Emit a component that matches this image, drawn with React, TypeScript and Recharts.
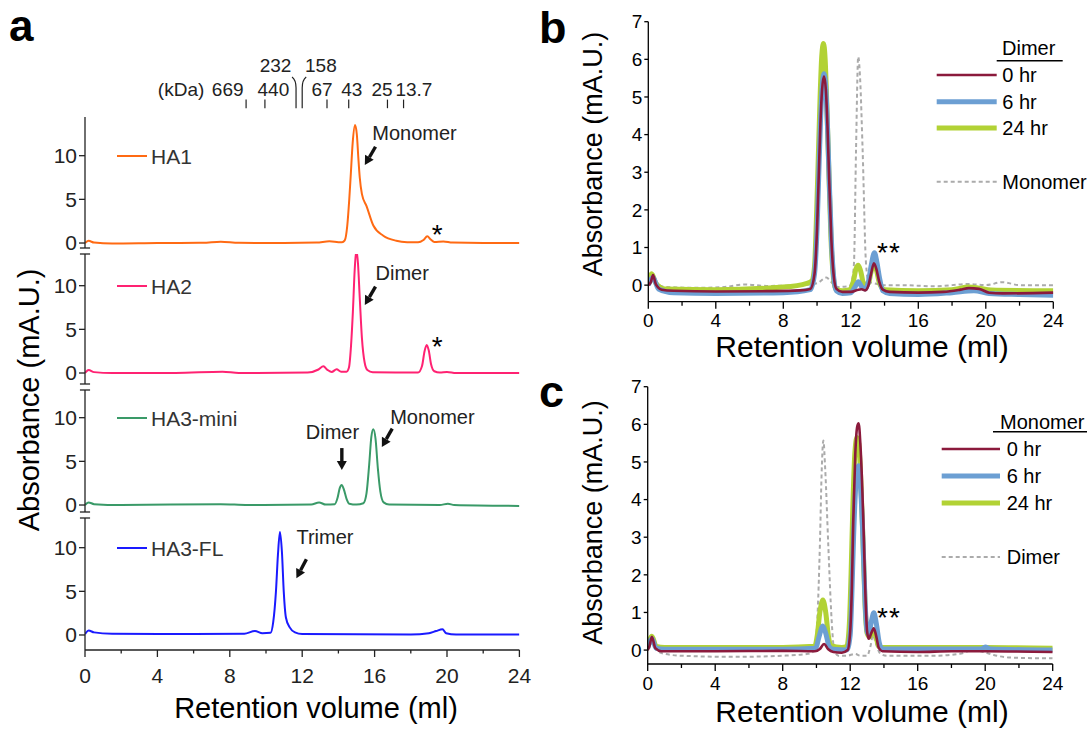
import React from 'react';
import { LineChart, Line, XAxis, YAxis, ReferenceDot, ReferenceLine, Legend } from 'recharts';

const FONT = '"Liberation Sans", Arial, Helvetica, sans-serif';
type P = [number, number];

// ---------- Panel a : SEC traces (retention volume ml, absorbance mA.U.) ----------
const ha1: P[] = [[0,0],[0.2,0.25],[0.5,0.05],[1.5,-0.05],[4,0],[6.5,0.02],[7.5,0.15],[8.5,0.02],[11,0],[12.8,0.05],[13.5,0.2],[14.0,0.1],[14.2,0.08],[14.35,0.3],[14.49,2.0],[14.6,5.0],[14.68,7.7],[14.79,11.5],[14.92,13.5],[15.02,12.4],[15.1,9.8],[15.18,7.5],[15.3,5.6],[15.56,4.2],[15.93,2.0],[16.48,0.84],[17.2,0.26],[17.8,0.1],[18.4,0.08],[18.7,0.35],[18.91,0.77],[19.1,0.4],[19.3,0.12],[19.8,0.18],[20.3,0.05],[22,0],[24,0]];
const ha2: P[] = [[0,0],[0.2,0.35],[0.5,0.1],[1.5,0],[5,0],[7.6,0.15],[8.5,0],[12.3,0.05],[12.9,0.4],[13.17,0.76],[13.4,0.35],[13.63,0.12],[13.9,0.42],[14.15,0.15],[14.45,0.15],[14.58,0.6],[14.7,3.2],[14.8,7.0],[14.9,11.8],[14.99,14.1],[15.08,12.6],[15.18,8.6],[15.3,4.0],[15.45,1.2],[15.6,0.35],[15.9,0.1],[18.4,0.05],[18.62,0.8],[18.76,2.5],[18.88,3.2],[18.99,2.6],[19.12,1.0],[19.3,0.2],[19.6,0.05],[20.0,0.12],[20.5,0],[24,0]];
const ha3mini: P[] = [[0,0],[0.2,0.3],[0.5,0.1],[2,0],[7.5,0.1],[9,0],[12.5,0.05],[12.93,0.3],[13.3,0.05],[13.8,0.1],[13.95,0.8],[14.07,1.9],[14.18,2.3],[14.3,1.8],[14.45,0.7],[14.6,0.15],[15.0,0.05],[15.38,0.2],[15.55,1.3],[15.7,4.6],[15.82,7.8],[15.93,8.67],[16.05,7.6],[16.18,4.2],[16.32,1.5],[16.5,0.3],[16.8,0.05],[19.6,0],[20.05,0.15],[20.4,0],[24,-0.1]];
const ha3fl: P[] = [[0,0.1],[0.2,0.5],[0.5,0.3],[1.5,0.15],[5,0.1],[8.8,0.15],[9.39,0.45],[9.8,0.2],[10.25,0.25],[10.4,1.5],[10.55,5.0],[10.66,9.2],[10.77,11.8],[10.88,9.5],[10.98,5.0],[11.1,2.0],[11.3,0.9],[11.6,0.3],[12,0.1],[18,0.05],[19.0,0.2],[19.4,0.45],[19.75,0.65],[19.95,0.2],[20.5,0.05],[24,0.05]];

// ---------- Panel b : dimer incubated 0/6/24 hr, monomer reference ----------
const bDimer0: P[] = [[0,0],[0.15,0.08],[0.28,0.27],[0.45,0.02],[0.8,-0.12],[1.5,-0.15],[4,-0.17],[7,-0.16],[9,-0.14],[9.6,-0.1],[9.85,0.3],[10.0,1.5],[10.1,2.9],[10.2,4.3],[10.3,5.2],[10.41,5.55],[10.52,5.2],[10.62,4.2],[10.72,2.8],[10.85,1.2],[11.0,0.2],[11.15,-0.1],[11.5,-0.18],[12.0,-0.18],[12.45,-0.12],[12.65,-0.11],[12.85,-0.14],[13.05,0.0],[13.2,0.3],[13.37,0.58],[13.52,0.42],[13.68,0.1],[13.9,-0.12],[14.3,-0.18],[16,-0.2],[17.5,-0.18],[18.5,-0.12],[19.0,-0.08],[19.6,-0.1],[20.2,-0.2],[21,-0.22],[24,-0.2]];
const bDimer6: P[] = [[0,0],[0.28,0.2],[0.6,-0.1],[1.5,-0.2],[4,-0.22],[8,-0.2],[9.6,-0.12],[9.85,0.3],[10.0,1.5],[10.1,2.9],[10.2,4.3],[10.3,5.25],[10.41,5.62],[10.52,5.25],[10.62,4.2],[10.72,2.8],[10.85,1.2],[11.0,0.15],[11.15,-0.15],[11.5,-0.22],[12.0,-0.2],[12.25,-0.05],[12.45,0.09],[12.65,-0.05],[12.85,-0.1],[13.05,0.1],[13.2,0.5],[13.4,0.86],[13.55,0.6],[13.7,0.2],[13.9,-0.15],[14.3,-0.22],[16,-0.25],[18,-0.2],[19.3,-0.15],[20.2,-0.22],[22,-0.25],[24,-0.27]];
const bDimer24: P[] = [[0,0.05],[0.2,0.3],[0.45,0.05],[1,-0.1],[4,-0.12],[8,-0.05],[9.4,0.05],[9.7,0.12],[9.85,0.5],[9.98,2.0],[10.08,3.5],[10.18,5.0],[10.28,6.1],[10.38,6.42],[10.48,6.0],[10.58,4.8],[10.7,3.0],[10.82,1.3],[10.97,0.2],[11.1,-0.1],[11.5,-0.15],[11.95,-0.12],[12.15,0.1],[12.3,0.42],[12.44,0.53],[12.58,0.38],[12.78,0.02],[13.05,0.05],[13.2,0.35],[13.38,0.55],[13.52,0.4],[13.7,0.05],[14,-0.12],[16,-0.15],[18,-0.12],[19,-0.05],[19.6,-0.08],[20.3,-0.13],[24,-0.15]];
const bMonomerRef: P[] = [[0,0.05],[0.22,0.35],[0.5,0.05],[1,-0.05],[3,-0.07],[4.5,-0.05],[5.7,0.02],[7,-0.02],[9,0],[10,0.05],[10.55,0.2],[10.85,0.08],[11.2,-0.05],[11.9,-0.03],[12.1,0.2],[12.19,0.6],[12.31,3.6],[12.44,6.07],[12.55,5.5],[12.7,3.6],[12.9,0.58],[13.05,0.1],[13.4,0.05],[14,0],[15,0],[17,-0.03],[19,0.03],[20,0],[21,0.08],[22,0],[24,0]];

// ---------- Panel c : monomer incubated 0/6/24 hr, dimer reference ----------
const cMono0: P[] = [[0,0],[0.1,0.1],[0.25,0.35],[0.45,0.05],[0.8,-0.03],[4,-0.03],[8,-0.02],[9.9,-0.03],[10.2,0.03],[10.45,0.16],[10.7,0.02],[11,-0.05],[11.5,-0.07],[11.85,0],[12.0,0.5],[12.1,1.7],[12.18,3.4],[12.3,5.2],[12.42,5.95],[12.5,6.03],[12.6,5.5],[12.7,4.5],[12.78,3.4],[12.9,1.5],[13.0,0.5],[13.1,0.3],[13.25,0.45],[13.4,0.58],[13.55,0.35],[13.7,0.05],[13.9,-0.03],[16,-0.05],[18,-0.03],[20,-0.03],[24,-0.05]];
const cMono6: P[] = [[0,0.05],[0.25,0.3],[0.5,0.05],[1,0.02],[8,0.02],[9.95,0.05],[10.15,0.35],[10.38,0.64],[10.55,0.45],[10.75,0.1],[11,0.02],[11.8,0],[12.0,0.4],[12.1,1.5],[12.2,3.0],[12.35,4.5],[12.5,4.9],[12.62,4.3],[12.75,3.0],[12.88,1.3],[13.0,0.5],[13.1,0.42],[13.25,0.75],[13.4,0.99],[13.55,0.7],[13.72,0.2],[13.9,0.03],[19.8,0.03],[20.0,0.08],[20.3,0.03],[24,0.0]];
const cMono24: P[] = [[0,0.07],[0.25,0.37],[0.5,0.1],[1,0.07],[8,0.07],[9.9,0.1],[10.05,0.4],[10.2,1.0],[10.38,1.33],[10.55,1.0],[10.7,0.4],[10.85,0.12],[11.5,0.07],[11.8,0.1],[11.95,0.7],[12.05,2.0],[12.15,3.7],[12.27,5.2],[12.4,5.65],[12.5,5.5],[12.62,4.6],[12.75,3.0],[12.88,1.2],[13.0,0.45],[13.15,0.35],[13.35,0.55],[13.5,0.4],[13.7,0.1],[13.9,0.07],[20,0.07],[24,0.05]];
const cDimerRef: P[] = [[0,0],[0.25,0.3],[0.5,0],[1,-0.1],[2,-0.15],[5,-0.18],[8,-0.15],[9.5,-0.1],[9.9,0],[10.05,0.8],[10.21,2.9],[10.3,4.6],[10.41,5.57],[10.52,4.8],[10.7,2.8],[10.9,0.8],[11.05,0],[11.3,-0.15],[11.8,-0.15],[12.3,-0.1],[12.6,-0.15],[13.0,-0.15],[13.2,0.1],[13.35,0.4],[13.5,0.2],[13.8,-0.1],[14.2,-0.15],[17,-0.15],[18.5,-0.1],[19.3,0],[19.9,-0.05],[20.5,-0.13],[21.5,-0.2],[24,-0.22]];

// ---------- ticks & labels ----------
const xTicks = [0, 2, 4, 6, 8, 10, 12, 14, 16, 18, 20, 22, 24];
const aYTicks = [0, 5, 10];
const bcYTicks = [0, 1, 2, 3, 4, 5, 6, 7];
const mwMarkers = [8.9, 9.94, 11.66, 12.0, 13.37, 14.57, 16.71, 17.6];
const mwLabels = ['669', '440', '232', '158', '67', '43', '25', '13.7'];
const timeLabels = ['0 hr', '6 hr', '24 hr'];

const toRows = (pts: P[]) => pts.map(([x, y]) => ({ x, y }));

// ---------- layout / style ----------
const mwRow = [2, 2, 1, 1, 2, 2, 2, 2];
const mwDx = [-18.4, 8.5, -20.5, 18.7, -5, 3, -5.5, 10.4];
const A_LEFT = 25, A_YW = 60, A_RIGHT = 40.6, A_W = 560, H = 734, A_XH = 75;

const aPanels = [
  { name: 'HA1', color: '#ff6a13', pts: ha1, plotTop: 117, plotBottom: 248, domain: [-0.57, 14.43],
    notes: [{ x: 15.87, y: 12.57, text: 'Monomer' }], stars: [{ x: 19.49, y: 1.7, text: '*' }],
    arrows: [{ x: 15.46, y: 8.93, dx: -10.7, dy: 18.3 }] },
  { name: 'HA2', color: '#ff2272', pts: ha2, plotTop: 254, plotBottom: 384, domain: [-1.26, 13.63],
    notes: [{ x: 16.05, y: 11.42, text: 'Dimer' }], stars: [{ x: 19.49, y: 3.78, text: '*' }],
    arrows: [{ x: 15.46, y: 7.79, dx: -10.7, dy: 18.3 }] },
  { name: 'HA3-mini', color: '#3a9a68', pts: ha3mini, plotTop: 390, plotBottom: 512, domain: [-0.8, 13.17],
    notes: [{ x: 12.2, y: 8.4, text: 'Dimer' }, { x: 16.86, y: 10.08, text: 'Monomer' }], stars: [],
    arrows: [{ x: 14.19, y: 4.0, dx: 0, dy: 22 }, { x: 16.4, y: 6.64, dx: -10.4, dy: 18.4 }] },
  { name: 'HA3-FL', color: '#1a1aff', pts: ha3fl, plotTop: 518, plotBottom: 650, domain: [-1.72, 13.4],
    notes: [{ x: 11.68, y: 11.26, text: 'Trimer' }], stars: [],
    arrows: [{ x: 11.68, y: 6.5, dx: -10, dy: 19 }] },
];

// ---------- small render helpers ----------
const XTick = (props: any) => {
  const { x, y, payload, tcolor, tfs, majorLen, minorLen, labelDy } = props;
  const v = payload.value;
  const isMajor = v % 4 === 0;
  return (
    <g>
      <line x1={x} x2={x} y1={y} y2={y + (isMajor ? majorLen : minorLen)} stroke={tcolor} strokeWidth={1.3} />
      {isMajor && (
        <text x={x} y={y + labelDy} textAnchor="middle" fontSize={tfs} fill={tcolor} fontFamily={FONT}>{v}</text>
      )}
    </g>
  );
};

const MwTick = (props: any) => {
  const { x, y, index } = props;
  const row = mwRow[index];
  const lx = x + mwDx[index];
  const ly = row === 1 ? y - 45 : y - 21;
  const bot = y - 8.8;
  let d = `M${x},${bot} L${x},${y - 17.4}`;
  if (index === 2) d = `M${x},${bot} L${x},${y - 29} Q${x},${y - 37} ${x - 4},${y - 40}`;
  if (index === 3) d = `M${x},${bot} L${x},${y - 29} Q${x},${y - 37} ${x + 4},${y - 40}`;
  return (
    <g>
      <path d={d} stroke="#222" strokeWidth={1.2} fill="none" />
      <text x={lx} y={ly} textAnchor="middle" fontSize={19} fill="#222" fontFamily={FONT}>{mwLabels[index]}</text>
      {index === 0 && (
        <text x={x - 65} y={y - 21} textAnchor="middle" fontSize={19} fill="#222" fontFamily={FONT}>(kDa)</text>
      )}
    </g>
  );
};

const Title = (props: any) => {
  const { tx, ty, txt, tsize, rotate } = props;
  return (
    <text x={tx} y={ty} textAnchor="middle" dominantBaseline={rotate ? 'central' : 'alphabetic'}
      transform={rotate ? `rotate(-90 ${tx} ${ty})` : undefined}
      fontSize={tsize} fill="#000" fontFamily={FONT}>{txt}</text>
  );
};

const ArrowShape = (props: any) => {
  const { cx, cy, adx, ady } = props;
  const len = Math.hypot(adx, ady);
  const ux = adx / len, uy = ady / len;
  const hl = 9, hw = 5;
  const bx = cx - ux * hl, by = cy - uy * hl;
  const px = -uy, py = ux;
  return (
    <g>
      <line x1={cx - adx} y1={cy - ady} x2={bx} y2={by} stroke="#111" strokeWidth={3.4} />
      <polygon points={`${cx},${cy} ${bx + px * hw},${by + py * hw} ${bx - px * hw},${by - py * hw}`} fill="#111" />
    </g>
  );
};

const NoteShape = (props: any) => {
  const { cx, cy, txt, nsize, ncolor, star } = props;
  if (star) {
    return <text x={cx} y={cy + 0.58 * nsize} textAnchor="middle" fontSize={nsize} fill="#000" fontFamily={FONT} letterSpacing={1}>{txt}</text>;
  }
  return <text x={cx} y={cy} textAnchor="start" dominantBaseline="central" fontSize={nsize} fill={ncolor} fontFamily={FONT}>{txt}</text>;
};

const ALegend = ({ color, label }: any) => (
  <svg width={160} height={28}>
    <line x1={1} x2={31} y1={14} y2={14} stroke={color} strokeWidth={2} />
    <text x={35} y={14} dominantBaseline="central" fontSize={21} fill="#333" fontFamily={FONT}>{label}</text>
  </svg>
);

function SubChart({ cfg, idx }: any) {
  const isFirst = idx === 0;
  const isLast = idx === aPanels.length - 1;
  const marginTop = isFirst ? 40 : cfg.plotTop;
  const marginBottom = isLast ? H - cfg.plotBottom - A_XH : H - cfg.plotBottom;
  const [d0, d1] = cfg.domain;
  const legendY = cfg.plotTop + ((d1 - 10) / (d1 - d0)) * (cfg.plotBottom - cfg.plotTop);
  return (
    <div style={{ position: 'absolute', left: 0, top: 0 }}>
      <LineChart width={A_W} height={H} margin={{ top: marginTop, bottom: marginBottom, left: A_LEFT, right: A_RIGHT }}>
        <XAxis dataKey="x" type="number" domain={[0, 24]} allowDataOverflow ticks={xTicks} interval={0}
          hide={!isLast} height={A_XH} tickLine={false} tickSize={0} tickMargin={0}
          axisLine={{ stroke: '#222', strokeWidth: 1.3 }}
          tick={<XTick tcolor="#222" tfs={21} majorLen={7} minorLen={3.5} labelDy={33} />}
          label={isLast ? <Title tx={316} ty={718.4} txt="Retention volume (ml)" tsize={29} /> : undefined} />
        {isFirst && (
          <XAxis xAxisId="mw" orientation="top" dataKey="x" type="number" domain={[0, 24]} allowDataOverflow
            ticks={mwMarkers} interval={0} height={77} axisLine={false} tickLine={false} tickSize={0} tickMargin={0}
            tick={<MwTick />} />
        )}
        <YAxis type="number" domain={cfg.domain} allowDataOverflow ticks={aYTicks} interval={0} width={A_YW}
          tickSize={6} tickMargin={2} axisLine={{ stroke: '#222', strokeWidth: 1.3 }} tickLine={{ stroke: '#222', strokeWidth: 1.3 }}
          tick={{ fontSize: 21, fill: '#222', fontFamily: FONT }}
          label={idx === 1 ? <Title tx={29} ty={400} txt="Absorbance (mA.U.)" tsize={29} rotate /> : undefined} />
        {!isFirst && (
          <ReferenceLine segment={[{ x: -0.28, y: d1 }, { x: 0.28, y: d1 }]} stroke="#222" strokeWidth={1.3} ifOverflow="visible" />
        )}
        {!isLast && (
          <ReferenceLine segment={[{ x: -0.28, y: d0 }, { x: 0.28, y: d0 }]} stroke="#222" strokeWidth={1.3} ifOverflow="visible" />
        )}
        <Line data={toRows(cfg.pts)} dataKey="y" name={cfg.name} type="monotone" stroke={cfg.color} strokeWidth={2}
          dot={false} activeDot={false} isAnimationActive={false} />
        {cfg.notes.map((n: any, i: number) => (
          <ReferenceDot key={'n' + i} x={n.x} y={n.y} r={0} ifOverflow="visible"
            shape={(p: any) => <NoteShape cx={p.cx} cy={p.cy} txt={n.text} nsize={20} ncolor="#222" />} />
        ))}
        {cfg.stars.map((n: any, i: number) => (
          <ReferenceDot key={'s' + i} x={n.x} y={n.y} r={0} ifOverflow="visible"
            shape={(p: any) => <NoteShape cx={p.cx} cy={p.cy} txt={n.text} nsize={28} star />} />
        ))}
        {cfg.arrows.map((a: any, i: number) => (
          <ReferenceDot key={'a' + i} x={a.x} y={a.y} r={0} ifOverflow="visible"
            shape={(p: any) => <ArrowShape cx={p.cx} cy={p.cy} adx={a.dx} ady={a.dy} />} />
        ))}
        <Legend layout="horizontal" verticalAlign="middle" align="center"
          wrapperStyle={{ left: 116, top: legendY - 14, width: 160, height: 28 }}
          content={() => <ALegend color={cfg.color} label={cfg.name} />} />
      </LineChart>
    </div>
  );
}

const seriesStyles = [
  { color: '#8b1a3c', width: 2.6, dash: undefined },
  { color: '#6c9fd3', width: 5, dash: undefined },
  { color: '#b2d235', width: 5, dash: undefined },
  { color: '#ababab', width: 2, dash: '4 3' },
];

const TimeLegend = ({ title, refName, geo }: any) => {
  const labels = [...timeLabels, refName];
  return (
    <svg width={175} height={165}>
      <text x={geo.titleX} y={geo.titleY} fontSize={20} fill="#000" fontFamily={FONT}>{title}</text>
      <line x1={geo.ul[0]} x2={geo.ul[1]} y1={geo.ulY} y2={geo.ulY} stroke="#000" strokeWidth={1.6} />
      {labels.map((lab, i) => (
        <g key={lab}>
          <line x1={geo.line[0]} x2={geo.line[1]} y1={geo.rows[i]} y2={geo.rows[i]} stroke={seriesStyles[i].color}
            strokeWidth={seriesStyles[i].width} strokeDasharray={seriesStyles[i].dash} />
          <text x={geo.textX} y={geo.rows[i]} dominantBaseline="central" fontSize={20} fill="#000" fontFamily={FONT}>{lab}</text>
        </g>
      ))}
    </svg>
  );
};

function TimeChart({ width, height, margin, domain, series, title, refName, geo, legendPos, star, yTitle, xTitle }: any) {
  const order = [3, 2, 1, 0];
  return (
    <LineChart width={width} height={height} margin={margin}>
      <XAxis dataKey="x" type="number" domain={[0, 24]} allowDataOverflow ticks={xTicks} interval={0}
        height={65} tickLine={false} tickSize={0} tickMargin={0} axisLine={{ stroke: '#000', strokeWidth: 1.3 }}
        tick={<XTick tcolor="#000" tfs={19} majorLen={7} minorLen={4} labelDy={25.5} />}
        label={<Title tx={xTitle[0]} ty={xTitle[1]} txt="Retention volume (ml)" tsize={30} />} />
      <YAxis type="number" domain={domain} allowDataOverflow ticks={bcYTicks} interval={0} width={60}
        tickSize={4} tickMargin={2} axisLine={{ stroke: '#000', strokeWidth: 1.3 }} tickLine={{ stroke: '#000', strokeWidth: 1.3 }}
        tick={{ fontSize: 19, fill: '#000', fontFamily: FONT }}
        label={<Title tx={yTitle[0]} ty={yTitle[1]} txt="Absorbance (mA.U.)" tsize={27} rotate />} />
      {order.map((i) => (
        <Line key={i} data={toRows(series[i])} dataKey="y" name={i < 3 ? timeLabels[i] : refName} type="monotone"
          stroke={seriesStyles[i].color} strokeWidth={seriesStyles[i].width} strokeDasharray={seriesStyles[i].dash}
          dot={false} activeDot={false} isAnimationActive={false} />
      ))}
      <ReferenceDot x={star.x} y={star.y} r={0} ifOverflow="visible"
        shape={(p: any) => <NoteShape cx={p.cx} cy={p.cy} txt="**" nsize={28} star />} />
      <Legend layout="horizontal" verticalAlign="middle" align="center"
        wrapperStyle={{ left: legendPos[0], top: legendPos[1], width: 175, height: 165 }}
        content={() => <TimeLegend title={title} refName={refName} geo={geo} />} />
    </LineChart>
  );
}

export default function App() {
  return (
    <div style={{ position: 'absolute', left: 0, top: 0, width: 1092, height: 734, background: '#fff', fontFamily: FONT, overflow: 'hidden' }}>
      <svg width={1092} height={734} style={{ position: 'absolute', left: 0, top: 0 }}>
        <text x={9} y={41} fontSize={44} fontWeight="bold" fontFamily={FONT} fill="#000">a</text>
        <text x={539} y={43} fontSize={45} fontWeight="bold" fontFamily={FONT} fill="#000">b</text>
        <text x={539} y={407} fontSize={45} fontWeight="bold" fontFamily={FONT} fill="#000">c</text>
      </svg>
      {aPanels.map((cfg, i) => <SubChart key={cfg.name} cfg={cfg} idx={i} />)}
      <div style={{ position: 'absolute', left: 560, top: 0 }}>
        <TimeChart width={532} height={370} margin={{ top: 21.7, bottom: 3.3, left: 28.3, right: 38.7 }}
          domain={[-0.44, 7]} series={[bDimer0, bDimer6, bDimer24, bMonomerRef]} title="Dimer" refName="Monomer"
          legendPos={[370, 35]} star={{ x: 14.26, y: 1.04 }} yTitle={[33, 154]} xTitle={[302, 356.7]}
          geo={{ titleX: 72, titleY: 20.2, ul: [66.7, 132.7], ulY: 25.7, line: [6.7, 66.7], textX: 72.3, rows: [40, 66.7, 93, 146.7] }} />
      </div>
      <div style={{ position: 'absolute', left: 560, top: 370 }}>
        <TimeChart width={532} height={364} margin={{ top: 16.7, bottom: 5, left: 27.7, right: 39.3 }}
          domain={[-0.37, 7]} series={[cMono0, cMono6, cMono24, cDimerRef]} title="Monomer" refName="Dimer"
          legendPos={[375, 35]} star={{ x: 14.3, y: 1.04 }} yTitle={[33, 152.5]} xTitle={[302, 351.7]}
          geo={{ titleX: 65, titleY: 23.9, ul: [58, 152], ulY: 26.7, line: [6.7, 65], textX: 71.7, rows: [44, 71, 98, 152] }} />
      </div>
    </div>
  );
}
